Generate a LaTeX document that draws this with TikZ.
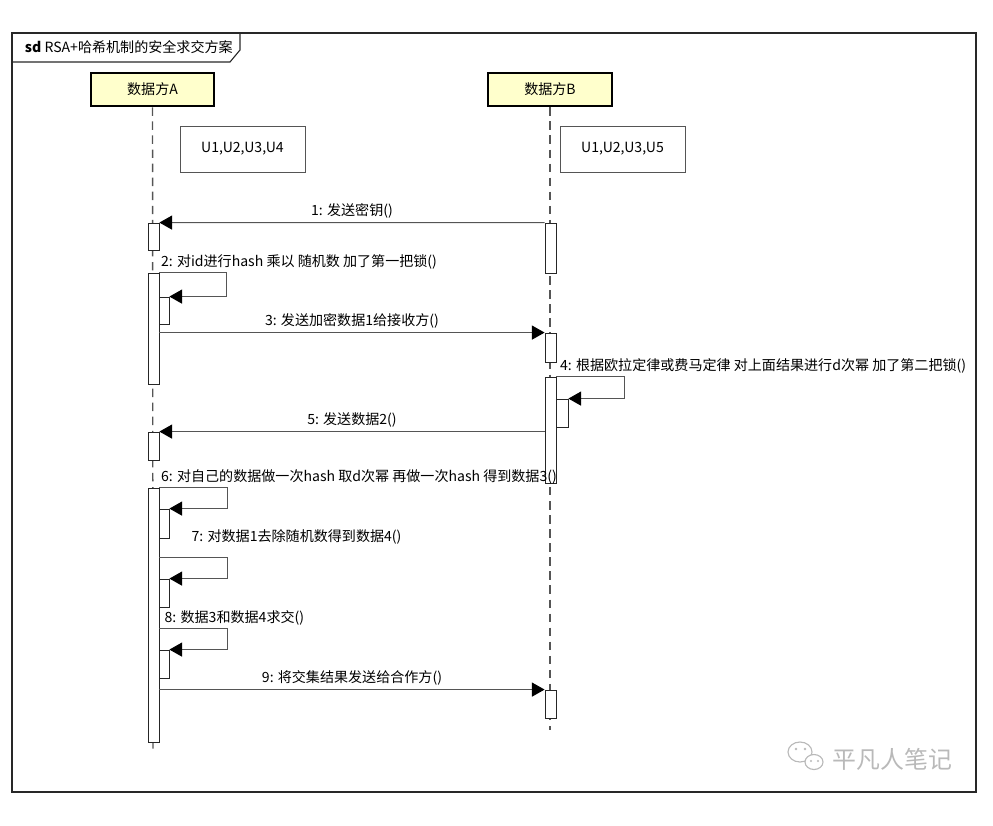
\documentclass[tikz,border=0pt]{standalone}
\usepackage{fontspec}
\setmainfont{Noto Sans CJK SC}
\usetikzlibrary{arrows.meta, fit, calc, positioning}

\definecolor{headfill}{RGB}{255,255,204}
\definecolor{framegray}{RGB}{40,40,40}
\definecolor{linegray}{RGB}{85,85,85}
\definecolor{markgray}{RGB}{185,185,185}

\tikzset{
  head/.style={draw=black, line width=1.5pt, fill=headfill, minimum width=3.08cm, minimum height=0.84cm, inner sep=0pt},
  note/.style={draw=linegray, line width=0.6pt, fill=white, minimum width=3.125cm, minimum height=1.15cm},
  act/.style={draw=black!85, line width=0.6pt, fill=white, inner sep=0pt},
  lifeline/.style={linegray, line width=1pt, dash pattern=on 6pt off 4pt},
  msg/.style={linegray, line width=0.7pt, -{Triangle[length=9pt, width=10pt, color=black]}},
  lbl/.style={inner sep=1pt, text=black},
}

\begin{document}
\begin{tikzpicture}[x=0.025cm, y=-0.025cm, every node/.style={font=\fontsize{10}{12}\selectfont}]
    \useasboundingbox (0,0) rectangle (993,825);

    % --- Frame and title tab ---
    \draw[framegray, line width=1pt] (12,33) rectangle (976,792);
    \draw[framegray, line width=0.8pt] (12,62) -- (230,62) -- (240,50) -- (240,33);
    \node[anchor=west] (title) at (20,47.5) {\textbf{sd} RSA+哈希机制的安全求交方案};

    % --- Participants and lifelines ---
    \node[head] (pA) at (152.5,89.5) {数据方A};
    \node[head] (pB) at (550,89.5) {数据方B};
    \coordinate (endA) at (153,750);
    \coordinate (endB) at (550,730);
    \draw[lifeline] (pA) -- (endA);
    \draw[lifeline] (pB) -- (endB);

    % --- Id sets ---
    \node[note] (setA) at (242.5,149) {U1,U2,U3,U4};
    \node[note] (setB) at (622.5,149) {U1,U2,U3,U5};

    % --- Activations, party A ---
    \node[act, fit={(148,223) (159,250)}] (a1) {};
    \node[act, fit={(148,273) (159,384)}] (a2) {};
    \node[act, fit={(159,297) (169,324)}] (n2) {};
    \node[act, fit={(148,432) (159,460)}] (a5) {};
    \node[act, fit={(148,488) (159,742)}] (a6) {};
    \node[act, fit={(159,509) (169,538)}] (n6) {};
    \node[act, fit={(159,579) (169,607)}] (n7) {};
    \node[act, fit={(159,650) (169,678)}] (n8) {};

    % --- Activations, party B ---
    \node[act, fit={(545,223) (556,273)}] (b1) {};
    \node[act, fit={(545,333) (556,362)}] (b3) {};
    \node[act, fit={(545,377) (556,483)}] (b4) {};
    \node[act, fit={(556,399) (568,427)}] (n4) {};
    \node[act, fit={(545,690) (556,718)}] (b9) {};

    % --- Messages ---
    \draw[msg] (b1.north west) -- (a1.north east)
        node[midway, above, lbl, yshift=2pt] {1: 发送密钥()};

    \draw[msg] (a2.north east) -- ++(67,0) |- (n2.north east);
    \node[lbl, anchor=south west] (m2) at ($(a2.north east)+(0,-2)$)
        {2: 对id进行hash 乘以 随机数 加了第一把锁()};

    \draw[msg] (a2.east |- b3.north) -- (b3.north west)
        node[midway, above, lbl, yshift=2pt] {3: 发送加密数据1给接收方()};

    \draw[msg] (b4.north east) -- ++(68,0) |- (n4.north east);
    \node[lbl, anchor=south west] (m4) at ($(b4.north east)+(2,-2)$)
        {4: 根据欧拉定律或费马定律 对上面结果进行d次幂 加了第二把锁()};

    \draw[msg] (b4.west |- a5.north) -- (a5.north east)
        node[midway, above, lbl, yshift=2pt] {5: 发送数据2()};

    \draw[msg] (a6.north east) -- ++(68,0) |- (n6.north east);
    \node[lbl, anchor=south west] (m6) at ($(a6.north east)+(0,-2)$)
        {6: 对自己的数据做一次hash 取d次幂 再做一次hash 得到数据3()};

    \coordinate (s7) at (159,557);
    \draw[msg] (s7) -- ++(68,0) |- (n7.north east);
    \node[lbl, anchor=west] (m7) at (190,537) {7: 对数据1去除随机数得到数据4()};

    \coordinate (s8) at (159,628);
    \draw[msg] (s8) -- ++(68,0) |- (n8.north east);
    \node[lbl, anchor=west] (m8) at (163,618) {8: 数据3和数据4求交()};

    \draw[msg] (a6.east |- b9.north) -- (b9.north west)
        node[midway, above, lbl, yshift=2pt] {9: 将交集结果发送给合作方()};

    % --- Watermark ---
    \draw[markgray, line width=0.8pt] (800,752) ellipse [x radius=12, y radius=10];
    \draw[markgray, line width=0.8pt, fill=white] (814,762) ellipse [x radius=9, y radius=7.5];
    \fill[markgray] (796,749) circle [radius=1.3] (805,749) circle [radius=1.3]
        (811,761) circle [radius=1.1] (818,761) circle [radius=1.1];
    \node[anchor=west, text=markgray, font=\fontsize{17}{20}\selectfont] (mark) at (828,759) {平凡人笔记};
\end{tikzpicture}
\end{document}
